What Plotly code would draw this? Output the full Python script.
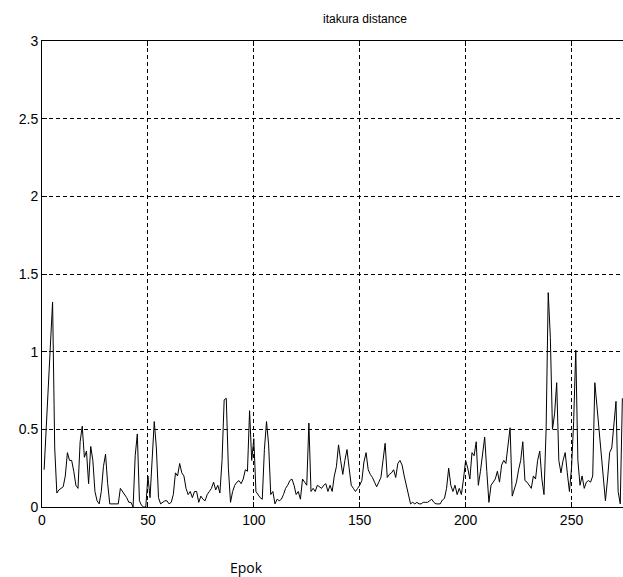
import plotly.graph_objects as go

title_text = "itakura distance"
x_label = "Epok"
x_ticks = [0, 50, 100, 150, 200, 250]
y_ticks = [0, 0.5, 1, 1.5, 2, 2.5, 3]

distance = [
    0.24, 0.50, 0.75, 1.04, 1.32, 0.38, 0.09, 0.11, 0.12, 0.13,
    0.20, 0.35, 0.30, 0.30, 0.23, 0.14, 0.12, 0.42, 0.52, 0.32,
    0.36, 0.15, 0.39, 0.30, 0.10, 0.04, 0.02, 0.10, 0.26, 0.34,
    0.15, 0.02, 0.02, 0.02, 0.02, 0.02, 0.12, 0.10, 0.08, 0.06,
    0.03, 0.03, 0.00, 0.33, 0.47, 0.04, 0.01, 0.00, 0.00, 0.20,
    0.06, 0.35, 0.55, 0.38, 0.06, 0.02, 0.03, 0.04, 0.04, 0.02,
    0.03, 0.08, 0.22, 0.20, 0.28, 0.22, 0.20, 0.12, 0.08, 0.10,
    0.06, 0.10, 0.10, 0.03, 0.07, 0.05, 0.04, 0.08, 0.10, 0.12,
    0.16, 0.11, 0.14, 0.09, 0.30, 0.69, 0.70, 0.25, 0.03, 0.10,
    0.14, 0.16, 0.17, 0.15, 0.18, 0.24, 0.23, 0.62, 0.30, 0.44,
    0.10, 0.08, 0.06, 0.05, 0.37, 0.55, 0.40, 0.08, 0.10, 0.02,
    0.05, 0.04, 0.05, 0.08, 0.12, 0.14, 0.17, 0.18, 0.14, 0.08,
    0.10, 0.05, 0.18, 0.16, 0.14, 0.54, 0.10, 0.12, 0.10, 0.14,
    0.13, 0.12, 0.14, 0.15, 0.10, 0.14, 0.10, 0.20, 0.26, 0.40,
    0.30, 0.21, 0.30, 0.37, 0.25, 0.14, 0.12, 0.10, 0.12, 0.14,
    0.17, 0.29, 0.35, 0.24, 0.21, 0.19, 0.16, 0.13, 0.16, 0.19,
    0.30, 0.41, 0.19, 0.21, 0.22, 0.24, 0.19, 0.28, 0.30, 0.27,
    0.20, 0.14, 0.09, 0.02, 0.03, 0.02, 0.03, 0.02, 0.02, 0.03,
    0.03, 0.03, 0.04, 0.05, 0.03, 0.02, 0.02, 0.02, 0.045, 0.055,
    0.12, 0.25, 0.14, 0.10, 0.14, 0.08, 0.12, 0.08, 0.18, 0.30,
    0.25, 0.18, 0.35, 0.33, 0.42, 0.14, 0.23, 0.36, 0.45, 0.23,
    0.03, 0.14, 0.16, 0.18, 0.23, 0.16, 0.27, 0.30, 0.28, 0.40,
    0.51, 0.07, 0.12, 0.16, 0.24, 0.30, 0.42, 0.17, 0.16, 0.14,
    0.12, 0.20, 0.18, 0.30, 0.36, 0.18, 0.08, 0.50, 1.38, 1.09,
    0.50, 0.60, 0.80, 0.30, 0.22, 0.30, 0.35, 0.22, 0.10, 0.25,
    0.55, 1.01, 0.30, 0.14, 0.20, 0.12, 0.16, 0.17, 0.16, 0.20,
    0.80, 0.65, 0.50, 0.35, 0.15, 0.04, 0.18, 0.35, 0.38, 0.55,
    0.68, 0.10, 0.02, 0.70,
]
epoch = list(range(1, len(distance) + 1))

fig = go.Figure()
fig.add_trace(go.Scatter(
    x=epoch, y=distance, mode="lines",
    line=dict(color="black", width=1),
    showlegend=False, hoverinfo="skip",
))

axis_font = dict(family="Liberation Sans, Arial, sans-serif", size=14, color="black")

fig.update_layout(
    width=623, height=577,
    margin=dict(l=42, r=0, t=41, b=70),
    paper_bgcolor="white", plot_bgcolor="white",
    title=dict(
        text=title_text, x=365 / 623, y=1 - 19 / 577,
        xref="container", yref="container",
        xanchor="center", yanchor="middle",
        font=dict(family="Liberation Sans, Arial, sans-serif", size=12, color="black"),
    ),
    annotations=[dict(
        text=x_label, xref="paper", yref="paper",
        x=(246 - 42) / 581, y=(507 - 567) / 466,
        xanchor="center", yanchor="middle", showarrow=False,
        font=dict(family="Open Sans, sans-serif", size=14, color="black"),
    )],
)

fig.update_xaxes(
    range=[0, 274.3], tickvals=x_ticks, ticktext=[str(t) for t in x_ticks],
    showline=True, linecolor="black", linewidth=1, mirror="ticks",
    ticks="inside", ticklen=5, tickcolor="black",
    showgrid=True, gridcolor="black", gridwidth=1, griddash="4px,3px",
    zeroline=False, tickfont=axis_font,
)
fig.update_yaxes(
    range=[0, 3], tickvals=y_ticks, ticktext=["0", "0.5", "1", "1.5", "2", "2.5", "3"],
    showline=True, linecolor="black", linewidth=1, mirror=False,
    ticks="inside", ticklen=5, tickcolor="black",
    showgrid=True, gridcolor="black", gridwidth=1, griddash="4px,3px",
    zeroline=False, tickfont=axis_font,
)

fig.write_html("out.html")
